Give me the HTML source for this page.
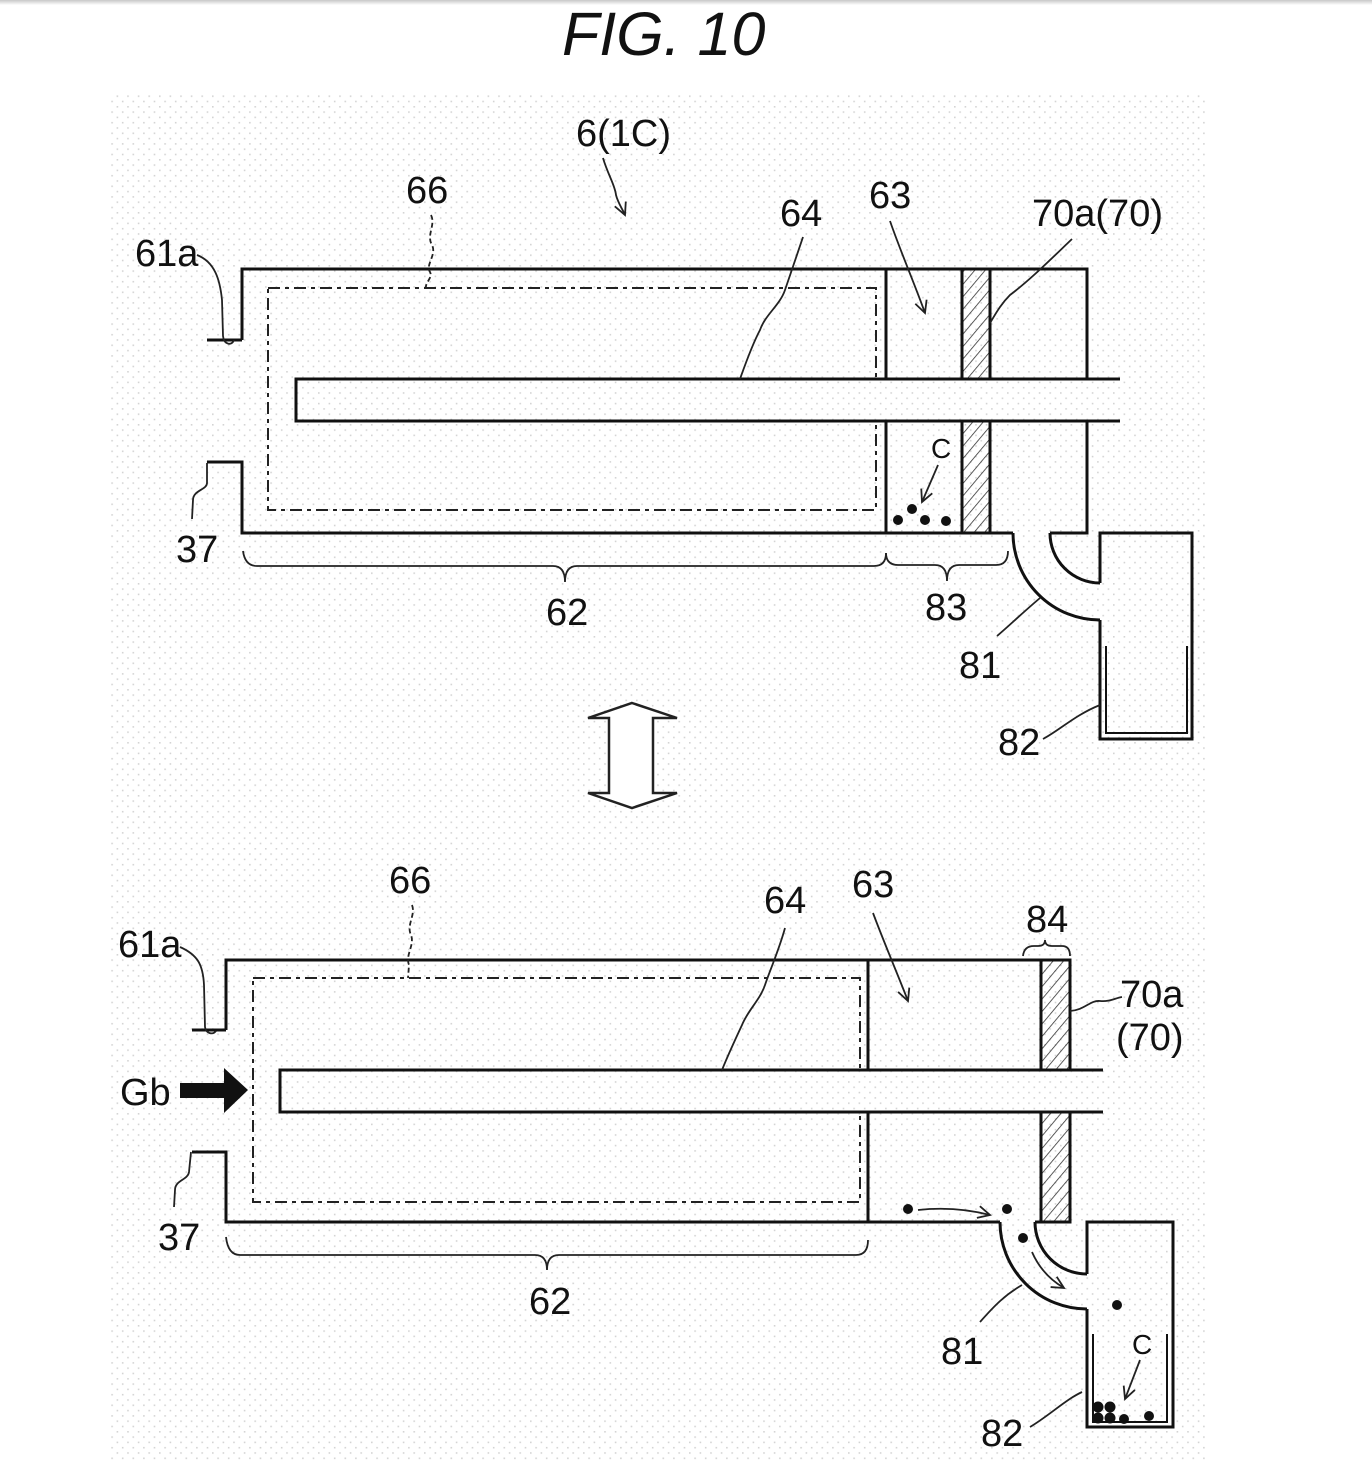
<!DOCTYPE html>
<html>
<head>
<meta charset="utf-8">
<style>
  html,body{margin:0;padding:0;background:#fff;}
  svg{display:block;}
  text{font-family:"Liberation Sans",Arial,sans-serif;fill:#111;}
</style>
</head>
<body>
<svg width="1372" height="1474" viewBox="0 0 1372 1474" xmlns="http://www.w3.org/2000/svg">
  <defs>
    <pattern id="dots" patternUnits="userSpaceOnUse" width="10.6" height="10.6">
      <rect x="0" y="0" width="1.6" height="1.6" fill="#d4d4d4"/>
      <rect x="5.3" y="5.3" width="1.6" height="1.6" fill="#d4d4d4"/>
    </pattern>
    <pattern id="hatch" patternUnits="userSpaceOnUse" width="8" height="8" patternTransform="rotate(40)">
      <line x1="0" y1="0" x2="0" y2="8" stroke="#333" stroke-width="1.6"/>
    </pattern>
    <marker id="ah" markerUnits="userSpaceOnUse" markerWidth="16" markerHeight="16" refX="14" refY="8" orient="auto">
      <path d="M2,2 L14,8 L2,14" fill="none" stroke="#222" stroke-width="1.8"/>
    </marker>
    <linearGradient id="topg" x1="0" y1="0" x2="0" y2="1">
      <stop offset="0" stop-color="#c8c8c8"/>
      <stop offset="1" stop-color="#ffffff"/>
    </linearGradient>
  </defs>

  <rect x="0" y="0" width="1372" height="1474" fill="#fff"/>
  <rect x="0" y="0" width="1372" height="5" fill="url(#topg)"/>
  <rect x="110" y="95" width="1097" height="1367" fill="url(#dots)"/>

  <!-- Title -->
  <text x="562" y="55" font-size="61" font-style="italic">FIG. 10</text>

  <!-- ================= TOP DIAGRAM ================= -->
  <rect x="268" y="288" width="608" height="222" fill="none" stroke="#222" stroke-width="2" stroke-dasharray="12 5 4 5"/>
  <rect x="297" y="380" width="823" height="40" fill="#fff"/>
  <rect x="297" y="380" width="823" height="40" fill="url(#dots)"/>
  <g fill="none" stroke="#111" stroke-width="3" stroke-linejoin="miter">
    <path d="M242,340 L242,269 L1087,269 L1087,379"/>
    <path d="M207,340 L242,340"/>
    <path d="M207,462 L242,462 L242,533 L1013,533"/>
    <path d="M1050,533 L1087,533 L1087,421"/>
    <path d="M1120,379 L296,379 L296,421 L1120,421"/>
    <path d="M886,269 V379 M886,421 V533"/>
    <rect x="962" y="269" width="28" height="110" fill="url(#hatch)"/>
    <rect x="962" y="421" width="28" height="112" fill="url(#hatch)"/>
    <!-- pipe 81 -->
    <path d="M1013,533 A87,87 0 0 0 1100,620"/>
    <path d="M1050,533 A50,50 0 0 0 1100,583"/>
    <!-- container 82 -->
    <path d="M1100,583 L1100,533 L1192,533 L1192,739 L1100,739 L1100,620"/>
    <path d="M1106,646 V733 H1187 V646" stroke-width="2"/>
  </g>

  <!-- top particles -->
  <g fill="#111">
    <circle cx="898" cy="520" r="5"/>
    <circle cx="912" cy="509" r="5"/>
    <circle cx="925" cy="520" r="5"/>
    <circle cx="946" cy="521" r="5"/>
  </g>

  <!-- top leaders -->
  <g fill="none" stroke="#222" stroke-width="1.8">
    <path d="M603,158 C608,175 615,185 616,195 C618,203 622,208 625,215" marker-end="url(#ah)"/>
    <path d="M431,215 C436,225 426,235 432,245 C437,255 425,265 430,272 C433,278 425,282 426,288" stroke-dasharray="5 3"/>
    <path d="M803,237 C797,255 790,275 785,290 C780,305 765,315 760,330 C752,345 745,365 740,379"/>
    <path d="M890,221 C900,250 915,285 925,313" marker-end="url(#ah)"/>
    <path d="M1072,239 C1050,260 1030,280 1010,295 C1000,305 995,315 990,323"/>
    <path d="M197,255 C215,262 220,280 222,300 L223,336 C224,345 232,346 234,340"/>
    <path d="M207,463 L207,483 C207,490 193,490 193,500 L192,519"/>
    <path d="M243,551 Q245,566 257,566 L553,566 Q565,566 565,582 Q565,566 577,566 L874,566 Q886,566 886,553"/>
    <path d="M886,553 Q886,565 898,565 L935,565 Q947,565 947,581 Q947,565 959,565 L996,565 Q1008,565 1008,551"/>
    <path d="M997,636 C1010,625 1020,615 1040,598"/>
    <path d="M1043,739 C1060,730 1075,715 1100,705"/>
    <path d="M938,465 L922,502" marker-end="url(#ah)"/>
  </g>

  <!-- top labels -->
  <g font-size="38">
    <text x="576" y="146">6(1C)</text>
    <text x="406" y="203">66</text>
    <text x="780" y="226">64</text>
    <text x="869" y="208">63</text>
    <text x="1032" y="226">70a(70)</text>
    <text x="135" y="266">61a</text>
    <text x="176" y="562">37</text>
    <text x="546" y="625">62</text>
    <text x="925" y="620">83</text>
    <text x="959" y="678">81</text>
    <text x="998" y="755">82</text>
  </g>
  <text x="931" y="458" font-size="28">C</text>

  <!-- ================= MIDDLE DOUBLE ARROW ================= -->
  <path d="M632,703 L677,718 L653,718 L653,793 L677,793 L632,808 L588,793 L609,793 L609,718 L588,718 Z" fill="#fff" stroke="#222" stroke-width="2.5" stroke-linejoin="miter"/>

  <!-- ================= BOTTOM DIAGRAM ================= -->
  <rect x="253" y="978" width="607" height="224" fill="none" stroke="#222" stroke-width="2" stroke-dasharray="12 5 4 5"/>
  <rect x="281" y="1071" width="822" height="40" fill="#fff"/>
  <rect x="281" y="1071" width="822" height="40" fill="url(#dots)"/>
  <g fill="none" stroke="#111" stroke-width="3">
    <path d="M226,1030 V960 H1070"/>
    <path d="M192,1030 H226"/>
    <path d="M192,1152 H226 V1222 H1000"/>
    <path d="M1035,1222 H1070"/>
    <path d="M1103,1070 H280 V1112 H1103"/>
    <path d="M868,960 V1070 M868,1112 V1222"/>
    <rect x="1041" y="960" width="29" height="110" fill="url(#hatch)"/>
    <rect x="1041" y="1112" width="29" height="110" fill="url(#hatch)"/>
    <!-- pipe 81 -->
    <path d="M1000,1222 A87,87 0 0 0 1087,1309"/>
    <path d="M1035,1222 A52,52 0 0 0 1087,1274"/>
    <!-- container 82 -->
    <path d="M1087,1274 V1222 H1173 V1427 H1087 V1309"/>
    <path d="M1093,1334 V1422 H1167 V1334" stroke-width="2"/>
  </g>

  <!-- Gb arrow -->
  <path d="M180,1083 L224,1083 L224,1068 L248,1090 L224,1113 L224,1098 L180,1098 Z" fill="#111"/>

  <!-- bottom particles -->
  <g fill="#111">
    <circle cx="908" cy="1209" r="5"/>
    <circle cx="1007" cy="1209" r="5"/>
    <circle cx="1023" cy="1238" r="5"/>
    <circle cx="1117" cy="1305" r="5"/>
    <circle cx="1098" cy="1407" r="5.5"/>
    <circle cx="1110" cy="1407" r="5.5"/>
    <circle cx="1098" cy="1418" r="5.5"/>
    <circle cx="1110" cy="1418" r="5.5"/>
    <circle cx="1124" cy="1419" r="5"/>
    <circle cx="1149" cy="1416" r="5"/>
  </g>

  <!-- bottom leaders -->
  <g fill="none" stroke="#222" stroke-width="1.8">
    <path d="M180,947 C198,955 203,965 204,985 L205,1027 C206,1034 213,1035 216,1031"/>
    <path d="M191,1152 L189,1172 C188,1180 175,1180 175,1190 L174,1207"/>
    <path d="M412,905 C416,915 406,925 411,935 C415,945 405,955 409,965 L408,978" stroke-dasharray="5 3"/>
    <path d="M785,928 C779,950 770,970 765,985 C760,1000 748,1010 742,1025 C735,1040 728,1055 722,1070"/>
    <path d="M873,913 C885,945 898,975 908,1001" marker-end="url(#ah)"/>
    <path d="M1023,956 Q1024,946 1034,946 L1038,946 Q1045,946 1045,940 Q1045,946 1052,946 L1062,946 Q1070,946 1070,956"/>
    <path d="M1070,1011 C1085,1010 1090,1000 1100,1001 C1110,1002 1115,998 1122,997"/>
    <path d="M980,1322 C995,1305 1005,1295 1022,1285"/>
    <path d="M1030,1427 C1050,1415 1065,1400 1082,1392"/>
    <path d="M226,1237 Q228,1255 240,1255 L535,1255 Q547,1255 547,1270 Q547,1255 559,1255 L856,1255 Q868,1255 868,1240"/>
    <path d="M1140,1360 L1125,1399" marker-end="url(#ah)"/>
    <path d="M918,1210 Q955,1206 990,1215" marker-end="url(#ah)"/>
    <path d="M1032,1252 Q1042,1275 1064,1288" marker-end="url(#ah)"/>
  </g>

  <!-- bottom labels -->
  <g font-size="38">
    <text x="389" y="893">66</text>
    <text x="118" y="957">61a</text>
    <text x="120" y="1105">Gb</text>
    <text x="158" y="1250">37</text>
    <text x="529" y="1314">62</text>
    <text x="764" y="913">64</text>
    <text x="852" y="897">63</text>
    <text x="1026" y="932">84</text>
    <text x="1120" y="1007">70a</text>
    <text x="1116" y="1050">(70)</text>
    <text x="941" y="1364">81</text>
    <text x="981" y="1446">82</text>
  </g>
  <text x="1132" y="1354" font-size="28">C</text>
</svg>
</body>
</html>
